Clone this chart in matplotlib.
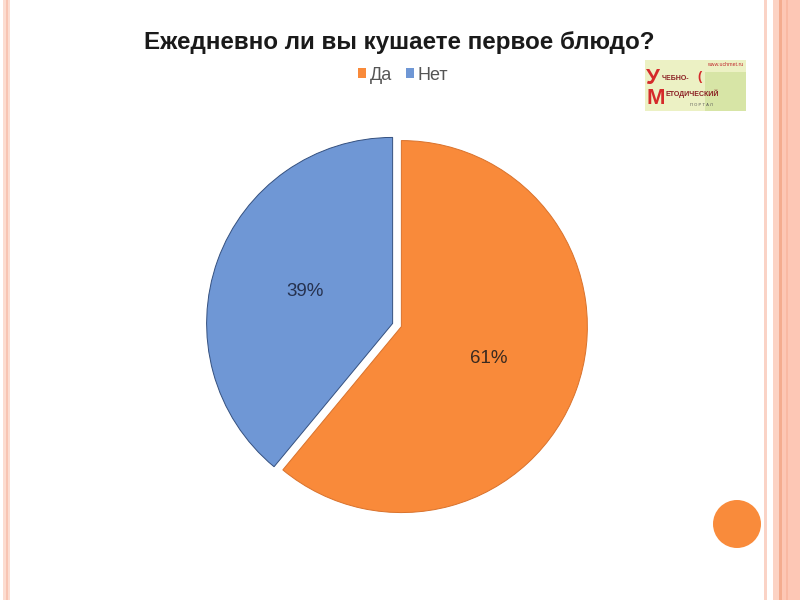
import matplotlib
matplotlib.use("Agg")
import matplotlib.pyplot as plt
from matplotlib.patches import Rectangle, Circle, Patch

title = "Ежедневно ли вы кушаете первое блюдо?"
categories = ["Да", "Нет"]
values = [61, 39]
colors = ["#F98A3A", "#6F97D5"]
edges = ["#D9722C", "#34507F"]

plt.rcParams['font.family'] = ['Liberation Sans', 'DejaVu Sans']

W, H = 800, 600
fig = plt.figure(figsize=(8, 6), dpi=100)
fig.patch.set_facecolor("white")

def fx(x):
    return x / W

def fy(y):
    return 1 - y / H

# slide border stripes
bg = fig.add_axes([0, 0, 1, 1])
bg.set_xlim(0, W)
bg.set_ylim(H, 0)
bg.axis("off")
stripes = [
    (3, 7, "#FCDCD0"), (5.5, 2.5, "#F8C4B2"),
    (764, 3, "#FAD3C6"), (773, 6, "#FCD2C3"), (779, 3, "#F4AC8F"),
    (782, 18, "#FDC7B5"), (786, 1.5, "#F9B9A3"),
]
for x0, w, c in stripes:
    bg.add_patch(Rectangle((x0, 0), w, H, color=c, lw=0))

# orange dot
bg.add_patch(Circle((737, 524), 24, color="#F98B3B", lw=0))

# logo
bg.add_patch(Rectangle((645, 60), 101, 51, facecolor="#ECF1C4", edgecolor="none"))
bg.add_patch(Rectangle((705, 72), 41, 39, facecolor="#CFE09A", edgecolor="none", alpha=0.7))
bg.text(743, 64, "www.uchmet.ru", color="#C0282D", fontsize=3.8, ha="right", va="center")
bg.text(646, 79, "У", color="#D52A2A", fontsize=16, fontweight="bold", ha="left", va="center")
bg.text(662, 79, "ЧЕБНО-", color="#8A1E22", fontsize=5, fontweight="bold", ha="left", va="center")
bg.text(697, 77, "(", color="#D52A2A", fontsize=9, fontweight="bold", ha="left", va="center")
bg.text(646, 98, "М", color="#D52A2A", fontsize=16, fontweight="bold", ha="left", va="center")
bg.text(665, 94, "ЕТОДИЧЕСКИЙ", color="#8A1E22", fontsize=5, fontweight="bold", ha="left", va="center")
bg.text(690, 105, "П О Р Т А Л", color="#555555", fontsize=3, ha="left", va="center")

# title
fig.text(fx(399), fy(42), title, ha="center", va="center",
         fontsize=17.4, fontweight="bold", color="#1A1A1A")

# pie
cx, cy, r = 397, 325, 186
half = 200
ax = fig.add_axes([fx(cx - half), fy(cy + half), 2 * half / W, 2 * half / H])
wedges, texts, autotexts = ax.pie(
    values, colors=colors, startangle=90, counterclock=False,
    explode=[0.025, 0.025], autopct="%d%%", pctdistance=0.5,
    textprops=dict(fontsize=13.5, color="#333333"),
    wedgeprops=dict(linewidth=0.7),
)
for w, e in zip(wedges, edges):
    w.set_edgecolor(e)
autotexts[0].set_color("#3A2A20")
autotexts[1].set_color("#26324F")
L = half / r
ax.set_xlim(-L, L)
ax.set_ylim(-L, L)
ax.set_aspect("equal")
ax.axis("off")

# legend
handles = [Patch(facecolor=c, edgecolor="none") for c in colors]
fig.legend(handles, categories, loc="center", bbox_to_anchor=(fx(403), fy(75)),
           ncol=2, frameon=False, fontsize=13, handlelength=0.45, handleheight=0.45,
           handletextpad=0.2, columnspacing=0.8, labelcolor="#555555")

fig.savefig("out.png", dpi=100, facecolor="white")
